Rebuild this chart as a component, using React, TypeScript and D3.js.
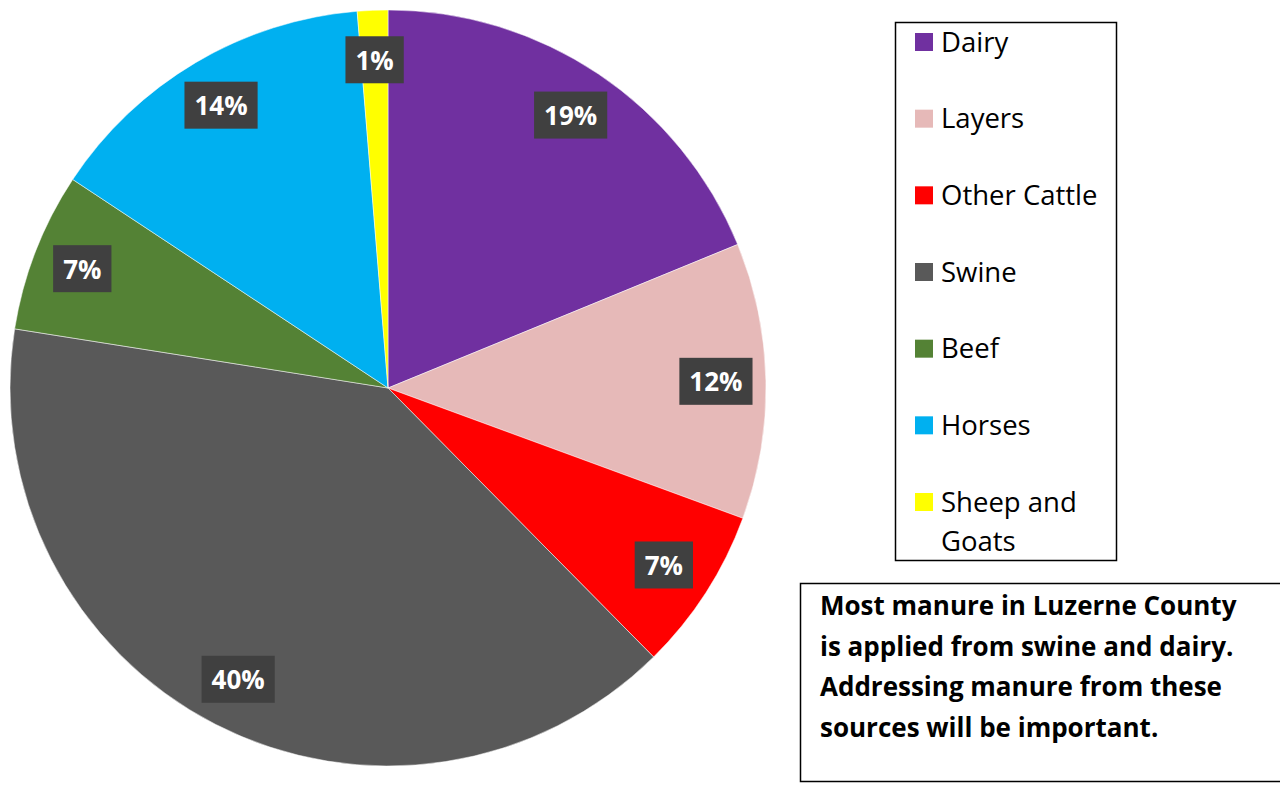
import * as React from 'react';
import * as d3 from 'd3';

// chart data
const categories = ['Dairy', 'Layers', 'Other Cattle', 'Swine', 'Beef', 'Horses', 'Sheep and Goats'];
const shares = [18.8, 11.8, 7.0, 39.9, 6.8, 14.4, 1.3];
const pctLabels = ['19%', '12%', '7%', '40%', '7%', '14%', '1%'];
const colors = ['#7030A0', '#E6B9B8', '#FF0000', '#595959', '#548235', '#00B0F0', '#FFFF00'];
const noteLines = [
  'Most manure in Luzerne County',
  'is applied from swine and dairy.',
  'Addressing manure from these',
  'sources will be important.',
];

const W = 1280;
const H = 794;
const FONT = '"Open Sans", Lato, sans-serif';

export default function App() {
  const ref = React.useRef<SVGSVGElement>(null);

  React.useEffect(() => {
    const svg = d3.select(ref.current);
    svg.selectAll('*').remove();

    const cx = 388;
    const cy = 388;
    const radius = 378;

    const rows = categories.map((c, i) => ({ label: c, value: shares[i], pct: pctLabels[i], color: colors[i] }));

    const pie = d3
      .pie<{ label: string; value: number }>()
      .sort(null)
      .value((d) => d.value);
    const arcs = pie(rows);

    const g = svg.append('g').attr('transform', `translate(${cx},${cy})`);

    g.selectAll('path.slice')
      .data(arcs)
      .enter()
      .append('path')
      .attr('class', 'slice')
      .attr('d', d3.arc<any>().innerRadius(0).outerRadius(radius))
      .attr('fill', (_d: any, i: number) => colors[i])
      .attr('stroke', '#ffffff')
      .attr('stroke-width', 0.5);

    // data labels in dark boxes
    const labelArc = d3.arc<any>().innerRadius(328).outerRadius(328);
    const labels = g
      .selectAll('g.lbl')
      .data(arcs)
      .enter()
      .append('g')
      .attr('class', 'lbl')
      .attr('transform', (d: any) => 'translate(' + labelArc.centroid(d) + ')');

    labels
      .append('text')
      .text((d: any) => d.data.pct)
      .attr('text-anchor', 'middle')
      .attr('dy', '0.36em')
      .attr('fill', '#ffffff')
      .attr('font-family', FONT)
      .attr('font-weight', 'bold')
      .attr('font-size', 26);

    labels.each(function () {
      const grp = d3.select(this);
      const t = grp.select('text').node() as SVGTextElement;
      const bb = t.getBBox();
      grp
        .insert('rect', 'text')
        .attr('x', -bb.width / 2 - 10)
        .attr('y', -24)
        .attr('width', bb.width + 20)
        .attr('height', 47)
        .attr('fill', '#404040');
    });

    // legend
    const legend = svg.append('g');
    legend
      .append('rect')
      .attr('x', 895.5)
      .attr('y', 22.5)
      .attr('width', 221)
      .attr('height', 538)
      .attr('fill', '#ffffff')
      .attr('stroke', '#000000')
      .attr('stroke-width', 1.5);

    const rowY = d3
      .scalePoint<string>()
      .domain(categories)
      .range([42, 502]);

    const item = legend
      .selectAll('g.item')
      .data(rows)
      .enter()
      .append('g')
      .attr('class', 'item')
      .attr('transform', (d) => `translate(0,${rowY(d.label)})`);

    item
      .append('rect')
      .attr('x', 915)
      .attr('y', -9)
      .attr('width', 18)
      .attr('height', 18)
      .attr('fill', (d) => d.color);

    item.each(function (d) {
      const words = d.label === 'Sheep and Goats' ? ['Sheep and', 'Goats'] : [d.label];
      const t = d3
        .select(this)
        .append('text')
        .attr('x', 941)
        .attr('y', 9.5)
        .attr('font-family', FONT)
        .attr('font-size', 27.5)
        .attr('fill', '#000000');
      words.forEach((w, k) => {
        t.append('tspan').attr('x', 941).attr('dy', k === 0 ? 0 : 39).text(w);
      });
    });

    // note box
    const note = svg.append('g');
    note
      .append('rect')
      .attr('x', 800.5)
      .attr('y', 583.5)
      .attr('width', 490)
      .attr('height', 198)
      .attr('fill', '#ffffff')
      .attr('stroke', '#000000')
      .attr('stroke-width', 1.5);

    note
      .selectAll('text')
      .data(noteLines)
      .enter()
      .append('text')
      .attr('x', 820)
      .attr('y', (_d, i) => 615 + i * 40.7)
      .attr('font-family', FONT)
      .attr('font-weight', 'bold')
      .attr('font-size', 26)
      .attr('fill', '#000000')
      .text((d) => d);
  }, []);

  return (
    <svg
      ref={ref}
      width={W}
      height={H}
      style={{ position: 'absolute', left: 0, top: 0, background: '#ffffff' }}
    />
  );
}
